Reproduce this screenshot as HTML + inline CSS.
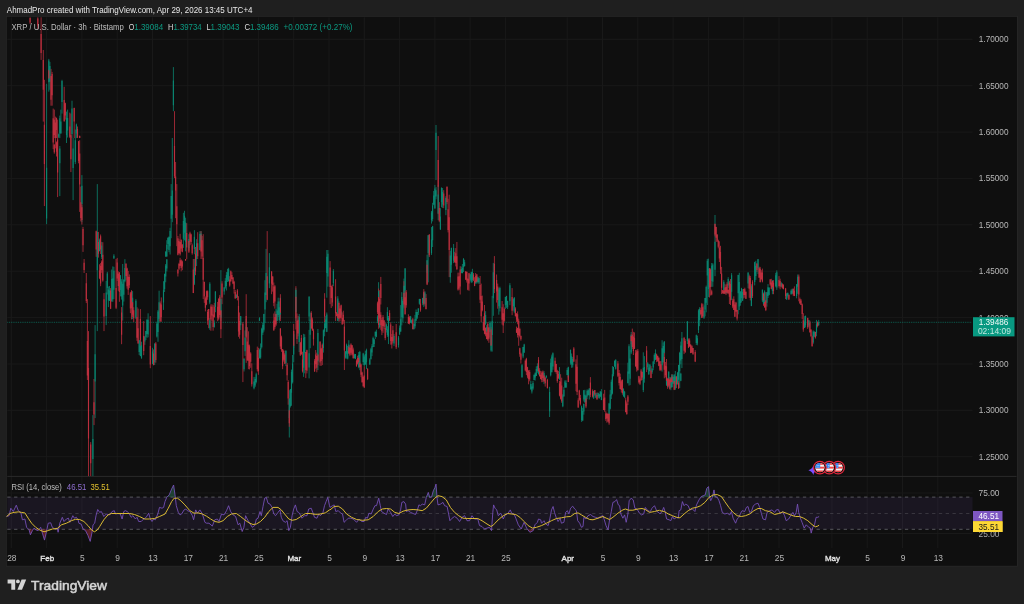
<!DOCTYPE html>
<html><head><meta charset="utf-8"><title>XRP / U.S. Dollar chart</title>
<style>html,body{margin:0;padding:0;background:#1f1f1f;overflow:hidden}body{width:1024px;height:604px;position:relative}</style>
</head><body>
<svg width="1024" height="604" viewBox="0 0 1024 604" style="position:absolute;left:0;top:0;will-change:transform">
<rect x="0" y="0" width="1024" height="604" fill="#1f1f1f"/>
<rect x="5.9" y="15.9" width="1012.0" height="550.8" fill="#262626"/>
<rect x="6.8" y="16.8" width="1010.2" height="549.0" fill="#0f0f0f"/>
<path d="M11.3 17.3V548.0M46.6 17.3V548.0M81.9 17.3V548.0M117.2 17.3V548.0M152.5 17.3V548.0M187.8 17.3V548.0M223.1 17.3V548.0M258.4 17.3V548.0M293.7 17.3V548.0M329.0 17.3V548.0M364.3 17.3V548.0M399.6 17.3V548.0M434.9 17.3V548.0M470.1 17.3V548.0M505.4 17.3V548.0M567.2 17.3V548.0M602.5 17.3V548.0M637.8 17.3V548.0M673.1 17.3V548.0M708.4 17.3V548.0M743.7 17.3V548.0M779.0 17.3V548.0M831.9 17.3V548.0M867.2 17.3V548.0M902.5 17.3V548.0M937.8 17.3V548.0M7.3 39.3H972.5M7.3 85.7H972.5M7.3 132.1H972.5M7.3 178.4H972.5M7.3 224.8H972.5M7.3 271.2H972.5M7.3 317.6H972.5M7.3 364.0H972.5M7.3 410.3H972.5M7.3 456.7H972.5M7.3 493.0H972.5M7.3 533.5H972.5" stroke="#191919" stroke-width="1" fill="none"/>
<path d="M7.3 476.4H1016.5" stroke="#2a2a2a" stroke-width="1"/>
<path d="M7.3 322.3H971.5" stroke="#0b8a75" stroke-width="1" stroke-dasharray="0.9 0.9" opacity="0.65"/>
<path d="M46.6 83.8V224.2M48.8 58.9V91.7M49.9 61.9V89.8M58.7 133.5V138.1M59.8 115.6V138.1M59.8 146.0V196.1M60.9 109.6V133.5M62.0 79.8V113.6M66.5 111.6V143.0M67.6 109.6V137.5M72.0 100.7V138.1M73.1 138.0V200.1M75.3 129.5V164.1M76.4 123.6V138.1M81.9 175.1V222.2M92.9 415.1V476.1M95.1 325.1V418.1M97.3 184.1V331.1M99.5 238.6V251.4M101.7 241.9V259.0M106.2 281.0V325.1M107.3 271.8V294.5M108.4 286.5V307.1M109.5 286.0V300.9M111.7 269.5V301.6M112.8 266.4V301.9M113.9 254.2V259.0M113.9 266.8V299.2M119.4 273.3V289.7M120.5 275.0V296.4M121.6 279.2V299.6M122.7 264.0V320.6M123.8 279.1V301.6M124.9 259.2V282.3M132.6 291.1V319.1M135.9 299.1V319.1M139.2 340.0V355.0M140.4 338.3V356.3M141.5 341.7V358.8M144.8 335.9V344.9M145.9 330.9V340.0M147.0 318.9V337.8M148.1 313.3V337.3M152.5 347.8V364.2M154.7 343.2V365.0M156.9 321.7V337.5M158.0 310.0V341.8M159.1 290.7V322.9M163.5 281.2V309.9M164.6 273.6V292.0M165.7 251.2V256.8M165.7 264.0V282.3M166.8 240.2V257.1M166.8 259.0V271.4M167.9 237.3V249.2M169.0 236.3V252.2M170.1 227.8V254.5M171.2 184.1V238.2M172.3 138.0V222.2M173.4 67.1V111.2M183.4 212.8V247.9M184.5 210.8V240.4M185.6 217.7V251.3M188.9 234.2V250.2M194.4 230.2V254.2M194.4 259.0V285.1M196.6 239.2V266.1M199.9 231.2V250.2M201.0 231.1V248.1M209.8 282.2V304.2M209.8 318.2V329.9M214.3 320.3V327.4M215.4 291.2V312.2M220.9 270.1V321.0M224.2 287.0V294.7M225.3 278.1V288.7M226.4 272.1V290.5M227.5 268.8V282.0M228.6 267.8V281.6M236.3 294.2V298.0M240.7 316.0V330.0M244.0 357.9V371.5M245.1 330.5V355.9M246.2 318.9V336.6M254.0 376.9V389.4M255.1 377.1V387.1M256.2 372.7V383.4M259.5 317.2V321.0M259.5 348.6V358.5M260.6 343.4V358.8M261.7 327.7V348.5M262.8 322.4V335.0M263.9 313.8V331.6M265.0 280.2V323.1M266.1 248.9V302.2M269.4 253.1V288.2M276.0 308.9V322.7M277.1 303.8V320.9M278.2 297.7V317.0M279.3 301.4V321.5M280.4 297.6V318.7M285.9 350.1V366.1M289.3 390.2V437.5M290.4 388.9V407.5M291.5 369.6V405.8M292.6 355.0V383.5M293.7 331.2V362.3M295.9 288.2V321.0M299.2 314.0V352.1M303.6 333.8V376.9M304.7 334.3V373.3M309.1 296.2V321.0M309.1 329.9V378.4M310.2 312.5V348.2M317.9 329.0V370.1M323.4 329.4V352.6M324.6 321.0V336.3M325.7 316.1V328.3M326.8 250.0V297.7M326.8 312.5V332.1M327.9 250.0V286.7M333.4 269.1V286.2M337.8 296.2V321.0M341.1 311.2V315.4M345.5 351.0V358.6M346.6 343.6V358.7M347.7 346.0V359.4M348.8 340.2V353.3M354.3 353.7V358.6M355.4 354.0V359.1M358.7 352.1V368.2M359.8 350.9V370.2M363.2 352.8V365.1M364.3 354.8V366.6M365.4 350.7V364.9M366.5 348.7V369.1M369.8 358.2V364.9M370.9 347.8V359.4M372.0 344.1V356.1M373.1 336.6V347.2M374.2 338.8V347.0M375.3 331.5V339.0M376.4 329.7V337.2M377.5 315.3V323.2M378.6 282.2V321.0M379.7 320.3V328.2M386.3 323.5V332.5M387.4 307.2V321.0M387.4 326.2V336.9M388.5 316.0V344.1M394.0 334.0V346.1M398.5 336.0V347.5M399.6 325.5V334.7M400.7 305.1V331.8M401.8 292.2V325.4M402.9 299.2V321.9M404.0 278.6V306.7M405.1 268.1V303.2M410.6 315.9V323.1M411.7 319.5V323.7M413.9 323.4V329.6M415.0 314.9V328.4M416.1 309.5V321.2M417.2 312.0V319.0M418.3 308.2V315.0M419.4 298.8V304.7M422.7 297.8V305.2M423.8 293.3V307.1M424.9 291.2V305.8M427.1 254.7V283.4M428.2 235.0V282.3M431.5 210.9V223.6M431.5 227.1V254.9M432.6 202.8V221.4M432.6 225.8V247.0M433.7 190.9V205.3M434.9 184.9V208.9M436.0 125.0V180.1M436.0 187.1V199.3M438.2 185.2V220.2M440.4 208.2V230.0M441.5 187.5V207.3M442.6 188.0V207.9M445.9 196.2V215.2M450.3 250.8V282.8M451.4 247.6V272.7M453.6 244.0V263.1M461.3 266.6V273.3M462.4 264.0V273.4M463.5 258.2V272.1M464.6 259.8V266.6M470.1 274.3V281.3M471.3 271.7V283.1M472.4 268.8V282.4M475.7 277.9V283.7M476.8 277.3V283.6M477.9 276.5V283.3M479.0 278.0V284.1M485.6 311.2V325.2M486.7 325.1V333.7M490.0 321.2V337.2M491.1 322.1V351.7M492.2 295.9V351.6M493.3 262.9V315.8M498.8 287.6V314.7M499.9 286.7V311.5M505.4 296.8V309.0M506.5 295.8V307.9M507.6 300.7V309.1M509.9 283.1V305.2M513.2 298.3V310.7M514.3 297.1V313.2M522.0 364.1V377.9M523.1 346.9V358.2M524.2 343.8V353.0M530.8 380.8V389.7M531.9 384.1V393.5M533.0 380.9V389.8M534.1 374.3V380.2M535.2 372.3V380.5M536.3 366.4V376.0M537.4 363.3V372.8M538.5 362.4V374.6M544.0 371.1V384.1M546.3 375.4V378.4M549.6 386.8V417.0M550.7 358.6V376.4M551.8 354.6V372.6M552.9 352.4V369.8M559.5 367.1V380.1M562.8 394.1V407.2M563.9 387.1V396.8M565.0 380.2V387.7M566.1 380.4V387.6M567.2 368.1V375.2M568.3 366.7V378.3M570.5 349.5V364.7M571.6 353.5V367.8M572.7 357.0V367.5M581.6 405.6V421.9M582.7 408.0V421.1M583.8 390.2V401.5M583.8 403.8V414.7M584.9 389.8V403.1M586.0 394.7V404.0M587.1 389.4V399.2M588.2 389.6V395.3M589.3 388.2V399.5M593.7 390.8V399.0M595.9 393.1V398.1M598.1 392.6V397.9M599.2 393.8V398.6M600.3 391.0V397.1M601.4 389.1V400.2M609.1 402.8V420.8M610.2 389.9V409.5M611.3 379.6V399.0M612.4 366.1V394.4M613.5 366.8V376.3M614.6 360.3V367.0M615.7 359.4V369.6M623.5 388.3V396.7M624.6 390.9V398.2M627.9 362.7V383.5M629.0 344.2V385.6M630.1 349.8V385.1M631.2 332.0V354.1M643.3 352.3V392.1M644.4 356.1V382.7M647.7 362.1V369.7M648.8 363.9V374.6M649.9 364.5V371.6M652.1 367.9V373.9M653.2 361.3V370.2M654.3 353.4V364.0M655.5 349.4V359.9M662.1 340.2V371.6M663.2 342.5V363.3M664.3 341.0V353.4M666.5 371.5V385.9M668.7 371.3V387.5M670.9 377.3V390.2M672.0 374.0V387.5M673.1 375.4V384.0M674.2 374.1V383.8M675.3 371.0V389.9M677.5 371.9V384.6M678.6 364.8V381.8M679.7 351.8V388.0M680.8 341.6V364.3M680.8 372.8V381.2M681.9 332.0V368.1M687.4 321.1V344.1M696.3 334.6V345.0M697.4 335.6V345.3M698.5 309.3V333.0M699.6 307.2V326.2M704.0 305.5V318.9M705.1 298.0V316.4M706.2 285.6V312.3M707.3 258.9V305.0M708.4 258.7V297.0M711.7 263.0V286.8M712.8 263.2V286.8M715.0 215.0V276.2M723.8 280.2V290.2M726.0 291.2V293.6M728.2 277.2V288.2M730.5 290.8V293.2M731.6 273.1V300.2M738.2 274.8V314.3M739.3 272.8V310.0M740.4 291.0V305.7M741.5 287.8V302.5M742.6 289.2V300.8M748.1 272.1V288.2M751.4 284.2V306.2M754.7 261.8V285.4M755.8 260.8V279.9M758.0 259.1V274.1M762.4 289.5V302.2M763.5 298.2V305.3M764.6 290.3V303.4M766.9 292.0V306.7M768.0 284.1V298.0M769.1 287.2V295.3M772.4 280.2V294.2M775.7 272.8V287.3M776.8 270.3V289.9M781.2 281.9V287.1M786.7 293.1V299.8M787.8 292.4V297.6M791.1 289.4V294.6M792.2 288.6V293.8M796.6 284.2V298.3M797.7 274.5V293.8M804.4 316.2V328.1M805.5 315.5V327.4M808.8 319.9V327.4M813.2 330.4V343.8M814.3 331.1V337.1M816.5 319.9V336.3M818.7 319.9V325.9" stroke="#0b7a66" stroke-width="1.0" fill="none" opacity="0.88"/>
<path d="M30.1 17.3V24.0M37.8 17.3V29.0M41.1 17.3V59.9M43.3 50.0V121.6M44.4 79.8V206.1M48.8 68.9V81.8M51.0 68.9V105.7M52.1 71.9V105.7M53.2 108.6V149.1M54.3 109.6V138.1M54.3 144.5V153.7M55.4 116.6V148.4M56.5 117.6V138.1M56.5 141.5V156.5M57.6 119.6V197.1M64.2 86.8V121.6M65.3 102.7V119.6M69.8 112.6V138.1M70.9 113.6V172.1M74.2 107.7V138.1M77.5 126.5V138.1M78.6 140.9V163.3M79.7 135.5V138.1M79.7 140.2V211.9M80.8 186.6V221.4M81.9 204.6V224.6M83.0 226.9V251.9M84.1 259.0V273.0M86.3 273.0V303.1M87.4 299.1V380.0M88.5 331.1V476.1M90.7 442.1V476.1M94.0 379.0V425.1M96.2 230.6V256.8M98.4 231.9V257.6M99.5 264.3V279.1M100.6 234.5V254.0M100.6 263.1V286.2M101.7 260.4V272.8M102.8 242.2V281.7M104.0 293.1V331.1M110.6 288.1V309.1M116.1 259.0V309.1M117.2 257.9V281.0M118.3 271.3V290.9M119.4 272.2V301.8M121.6 307.1V344.2M126.0 263.3V280.1M127.1 267.7V288.6M128.2 270.9V294.9M129.3 274.4V288.1M130.4 291.9V313.2M131.5 290.1V319.4M132.6 299.2V316.9M133.7 307.2V322.1M137.0 307.2V340.9M138.1 308.6V343.6M140.4 309.1V355.2M143.7 321.1V355.2M150.3 316.1V368.2M153.6 349.4V365.4M155.8 342.1V362.7M160.2 301.4V321.9M161.3 297.4V321.8M174.5 111.2V178.1M175.6 162.0V218.2M176.8 184.1V246.2M177.9 236.0V255.4M177.9 269.2V276.5M179.0 239.2V253.7M179.0 262.8V270.1M180.1 233.8V255.6M180.1 257.8V266.1M181.2 239.6V251.4M181.2 259.4V271.3M182.3 244.0V252.3M182.3 260.6V270.2M185.6 259.0V261.0M186.7 223.2V259.0M188.9 240.9V253.0M190.0 231.7V245.3M191.1 233.7V244.4M192.2 243.6V254.7M193.3 259.0V293.1M195.5 247.0V275.2M197.7 232.2V259.0M201.0 231.2V259.0M202.1 236.0V259.1M203.2 234.2V299.1M204.3 281.6V302.9M205.4 296.5V311.4M206.5 290.6V305.2M207.6 290.4V299.8M207.6 309.7V324.8M208.7 309.1V328.2M210.9 304.3V330.8M212.0 304.3V321.1M213.1 305.1V330.7M214.3 302.9V317.5M217.6 301.9V321.2M218.7 298.1V320.3M219.8 294.9V317.4M220.9 310.0V338.1M222.0 281.2V304.2M229.7 276.2V286.7M230.8 270.5V281.8M231.9 272.2V279.6M233.0 277.0V284.2M234.1 280.8V293.6M235.2 289.9V298.7M237.4 289.1V300.4M238.5 296.2V336.8M239.6 312.5V338.7M242.9 322.0V382.1M246.2 294.2V362.9M247.3 327.2V360.7M248.4 331.3V369.2M249.5 344.6V369.4M250.7 352.2V367.8M251.8 363.3V386.6M257.3 346.6V371.5M258.4 347.8V374.8M267.2 231.1V300.2M271.6 271.2V294.2M272.7 276.2V291.6M273.8 282.5V306.2M273.8 313.5V330.8M274.9 285.0V308.7M274.9 311.4V328.8M276.0 313.8V325.9M280.4 294.2V321.0M280.4 328.2V349.2M281.5 335.7V351.8M282.6 349.1V369.2M283.7 349.8V361.6M284.8 353.1V363.9M287.1 362.9V380.5M288.2 380.2V404.7M289.3 398.6V426.8M293.7 324.0V348.1M295.9 286.2V329.5M297.0 313.5V343.9M298.1 315.9V336.3M300.3 341.9V356.0M301.4 334.9V354.7M302.5 351.7V372.5M305.8 352.0V378.1M306.9 349.7V373.4M311.3 311.2V328.9M312.4 317.5V330.6M313.5 328.7V345.6M314.6 359.1V372.0M315.7 350.0V368.7M316.8 352.6V372.3M317.9 354.5V365.2M320.1 341.2V365.8M321.2 347.8V365.9M322.3 343.5V365.1M324.6 293.2V322.0M330.1 261.1V304.2M331.2 285.6V308.0M332.3 284.6V306.3M335.6 279.2V321.0M336.7 312.0V316.4M337.8 312.9V318.5M338.9 301.4V321.6M340.0 306.2V321.3M341.1 304.6V318.8M342.2 312.4V324.5M343.3 310.7V323.8M344.4 319.9V370.0M348.8 345.4V353.6M349.9 345.2V356.2M351.0 343.3V354.9M352.1 345.2V355.6M353.2 347.6V358.5M356.5 359.4V366.7M357.6 355.7V364.6M358.7 356.4V363.3M359.8 361.5V367.8M361.0 363.7V377.2M362.1 371.7V382.9M363.2 375.6V387.2M364.3 366.6V388.0M367.6 368.1V380.1M377.5 301.6V314.2M378.6 288.5V328.8M379.7 290.2V321.3M380.8 276.9V304.5M380.8 312.2V329.8M381.9 317.7V335.1M383.0 315.1V332.9M384.1 320.2V328.9M385.2 322.5V340.2M389.6 310.2V321.0M390.7 322.3V344.7M391.8 334.0V348.5M392.9 325.9V342.9M396.2 324.0V349.1M404.0 281.2V308.3M405.1 290.8V314.8M406.2 290.1V307.7M408.4 314.3V324.0M409.5 316.2V324.4M412.8 317.9V329.5M420.5 298.9V311.7M423.8 289.1V305.2M426.0 294.1V309.2M427.1 261.1V285.1M429.3 234.0V257.1M438.2 136.1V214.2M439.3 202.2V222.2M443.7 190.2V208.2M447.0 186.2V204.2M448.1 198.8V232.4M449.2 194.7V277.1M454.7 251.8V262.8M455.8 248.1V266.4M456.9 242.0V270.1M458.0 272.6V290.6M459.1 272.7V290.1M460.2 266.2V294.5M465.7 271.1V280.0M466.8 271.4V282.6M467.9 277.9V290.3M469.0 272.8V290.8M473.5 273.1V281.1M474.6 277.2V286.2M475.7 273.0V282.7M476.8 274.1V282.2M480.1 276.0V303.1M481.2 283.6V322.2M482.3 295.6V311.4M483.4 316.3V330.7M484.5 305.0V334.3M485.6 327.4V336.3M486.7 330.2V339.2M487.8 322.2V340.8M488.9 327.2V342.8M491.1 327.2V346.0M494.4 256.1V293.1M496.6 274.5V302.6M497.7 283.6V308.7M502.1 301.0V324.6M503.2 304.2V333.0M504.3 307.4V321.8M512.1 288.1V315.2M515.4 307.2V316.4M516.5 313.2V321.9M516.5 326.6V333.0M517.6 311.4V324.3M517.6 327.7V337.5M518.7 318.6V345.8M519.8 327.7V337.4M519.8 347.7V356.8M520.9 335.5V340.7M520.9 352.6V363.5M525.3 359.5V371.2M526.4 357.8V375.1M527.5 366.8V378.3M528.6 370.3V384.3M529.7 369.9V381.3M538.5 357.1V372.1M539.6 368.2V376.4M540.7 370.9V379.3M541.8 371.3V382.2M542.9 370.5V382.1M544.0 374.6V381.6M545.2 377.0V386.6M547.4 378.8V388.3M555.1 357.6V372.2M556.2 363.8V373.8M557.3 369.8V382.8M558.4 370.9V378.5M559.5 380.9V396.4M560.6 374.2V399.5M561.7 377.7V402.8M568.3 370.1V382.1M573.8 347.1V362.1M576.0 359.4V391.2M577.1 355.2V395.1M578.2 398.3V407.7M579.3 389.8V400.8M580.4 394.9V405.4M586.0 396.2V408.2M590.4 377.1V397.2M592.6 389.4V397.5M594.8 390.1V395.8M597.0 392.4V399.5M603.6 393.7V410.0M604.7 389.9V411.8M605.8 411.2V420.9M606.9 412.7V422.7M608.0 413.4V421.9M609.1 413.3V424.8M617.9 361.1V377.1M619.1 370.0V385.5M620.2 373.7V389.2M621.3 379.8V392.5M622.4 379.6V394.7M625.7 397.6V412.4M626.8 401.6V414.8M627.9 395.0V405.1M631.2 334.2V344.1M632.3 328.6V349.0M633.4 331.8V355.0M634.5 332.4V348.9M635.6 349.9V366.9M636.7 349.7V371.6M637.8 349.0V370.7M638.9 375.8V383.6M640.0 377.7V385.1M641.1 368.9V380.6M642.2 371.5V380.0M646.6 346.1V372.1M651.0 366.1V378.1M656.6 353.7V362.2M657.7 355.6V361.6M658.8 357.1V366.2M659.9 361.1V370.9M661.0 360.9V371.2M664.3 352.1V378.3M665.4 362.0V377.4M666.5 359.0V382.9M667.6 377.8V388.8M668.7 378.2V386.3M669.8 376.9V389.6M670.9 377.9V382.9M672.0 374.2V383.1M674.2 376.8V390.1M676.4 375.9V388.1M678.6 381.2V389.0M684.1 336.9V354.1M685.2 339.1V352.8M688.5 338.5V348.1M689.6 338.4V346.6M690.7 344.0V353.2M691.9 345.3V353.0M693.0 348.0V354.9M695.2 350.1V362.1M700.7 307.6V315.3M701.8 302.9V318.1M702.9 303.7V317.8M709.5 268.0V297.5M710.6 268.4V295.5M711.7 289.7V295.3M715.0 223.6V236.4M716.1 226.8V242.0M717.2 234.4V242.1M718.3 239.7V248.3M719.4 241.3V262.0M720.5 245.8V273.9M721.6 266.9V294.1M722.7 290.0V293.8M723.8 289.8V293.7M724.9 283.8V293.7M726.0 284.8V295.1M727.1 281.9V293.6M728.2 289.4V294.2M729.4 280.8V304.0M730.5 279.0V305.0M732.7 298.7V308.2M733.8 296.3V310.0M734.9 301.8V316.8M736.0 301.8V311.9M737.1 309.8V320.5M743.7 288.9V298.4M744.8 287.7V297.7M745.9 291.2V299.0M749.2 274.6V297.7M750.3 275.9V300.4M752.5 280.2V298.0M756.9 263.1V272.1M759.1 266.7V278.0M760.2 266.9V282.2M761.3 270.2V279.9M762.4 268.6V282.4M763.5 292.6V305.8M764.6 298.0V307.9M765.8 292.2V311.1M770.2 279.0V285.8M771.3 278.8V289.2M772.4 280.8V290.1M773.5 280.2V294.2M779.0 276.1V287.6M780.1 278.7V289.3M782.3 283.4V288.6M783.4 284.2V289.4M785.6 287.9V299.1M788.9 294.6V299.8M793.3 288.6V296.1M794.4 286.4V296.1M798.8 274.5V301.3M799.9 297.6V303.5M801.0 299.1V305.0M802.2 303.5V319.2M803.3 313.2V331.8M807.7 317.7V328.9M809.9 320.7V332.6M811.0 329.6V337.1M812.1 335.6V346.8M815.4 331.8V338.6M817.6 321.4V327.4" stroke="#ab2b39" stroke-width="1.0" fill="none" opacity="0.88"/>
<path d="M46.6 167.7V218.4M48.8 60.5V82.3M49.9 65.9V81.8M58.7 134.2V136.7M59.8 118.2V133.6M59.8 148.6V163.2M60.9 121.4V133.4M62.0 80.9V102.0M66.5 117.8V135.0M67.6 117.9V130.6M72.0 108.5V133.9M73.1 148.5V167.9M75.3 140.2V162.0M76.4 124.6V133.6M81.9 185.7V204.0M92.9 439.1V458.9M95.1 354.3V381.4M97.3 231.9V270.2M99.5 240.2V250.9M101.7 245.6V257.1M106.2 292.6V316.1M107.3 273.4V287.9M108.4 289.6V300.6M109.5 290.6V300.8M111.7 279.0V301.2M112.8 278.3V299.2M113.9 255.8V258.3M113.9 270.8V289.7M119.4 278.0V287.4M120.5 275.6V290.1M121.6 281.5V296.4M122.7 283.7V305.4M123.8 280.0V294.8M124.9 268.0V281.2M132.6 297.7V309.6M135.9 300.8V317.7M139.2 340.3V352.1M140.4 345.8V356.0M141.5 345.3V357.7M144.8 336.9V341.6M145.9 331.0V336.9M147.0 319.9V333.9M148.1 319.7V334.6M152.5 351.4V363.7M154.7 343.8V362.3M156.9 323.8V336.5M158.0 311.4V331.9M159.1 302.3V318.8M163.5 290.2V302.5M164.6 274.0V289.1M165.7 251.7V256.5M165.7 265.4V276.4M166.8 244.8V256.2M166.8 259.4V268.5M167.9 238.0V244.0M169.0 236.9V249.9M170.1 231.1V246.3M171.2 196.0V218.8M172.3 190.6V214.7M173.4 80.4V105.2M183.4 220.9V238.7M184.5 215.7V232.7M185.6 222.5V241.8M188.9 238.9V247.9M194.4 236.7V249.1M194.4 267.4V283.8M196.6 243.2V259.1M199.9 233.9V250.0M201.0 233.5V247.2M209.8 283.7V302.4M209.8 320.3V328.3M214.3 322.7V327.2M215.4 291.6V307.1M220.9 298.9V317.8M224.2 287.6V291.5M225.3 281.1V287.5M226.4 275.1V285.9M227.5 272.2V279.8M228.6 269.2V280.9M236.3 295.0V297.9M240.7 316.3V325.2M244.0 359.0V369.2M245.1 337.4V351.3M246.2 327.0V335.9M254.0 381.6V388.3M255.1 378.9V385.6M256.2 374.3V382.1M259.5 318.3V320.6M259.5 350.1V358.1M260.6 347.9V357.4M261.7 328.8V347.3M262.8 325.0V332.7M263.9 314.1V329.7M265.0 292.4V309.6M266.1 273.1V295.1M269.4 267.2V283.6M276.0 314.1V321.2M277.1 310.6V320.8M278.2 301.4V314.9M279.3 307.2V320.0M280.4 297.9V314.6M285.9 351.0V363.0M289.3 398.5V417.9M290.4 389.3V406.0M291.5 372.0V392.7M292.6 363.5V382.2M293.7 334.3V354.4M295.9 289.9V311.9M299.2 316.7V342.0M303.6 337.7V367.8M304.7 336.9V352.7M309.1 296.7V316.4M309.1 353.3V367.5M310.2 319.5V334.7M317.9 333.0V361.6M323.4 330.2V348.1M324.6 323.5V331.8M325.7 319.5V328.0M326.8 256.8V272.9M326.8 314.4V331.8M327.9 253.8V276.5M333.4 270.9V283.2M337.8 298.5V320.7M341.1 311.8V314.5M345.5 351.7V357.4M346.6 344.8V353.8M347.7 351.1V358.4M348.8 344.6V351.4M354.3 354.6V358.0M355.4 354.1V358.7M358.7 354.9V366.9M359.8 352.1V366.0M363.2 353.6V362.1M364.3 356.6V365.0M365.4 354.0V364.2M366.5 350.1V362.3M369.8 359.5V364.6M370.9 349.2V359.2M372.0 346.3V352.5M373.1 338.0V346.9M374.2 339.4V343.9M375.3 331.8V336.3M376.4 331.8V336.7M377.5 316.8V321.0M378.6 290.8V311.6M379.7 322.7V327.1M386.3 324.6V330.1M387.4 311.9V320.1M387.4 329.4V335.1M388.5 317.9V336.4M394.0 335.9V343.4M398.5 337.6V345.0M399.6 327.8V334.5M400.7 319.2V331.4M401.8 297.0V317.3M402.9 300.9V318.3M404.0 285.8V300.2M405.1 268.4V290.4M410.6 316.4V322.5M411.7 320.2V323.1M413.9 323.9V328.9M415.0 319.3V326.3M416.1 312.0V320.4M417.2 312.1V317.8M418.3 308.4V312.4M419.4 298.9V303.7M422.7 298.0V303.3M423.8 293.6V303.1M424.9 292.6V303.9M427.1 260.0V272.7M428.2 235.2V253.2M431.5 212.5V220.2M431.5 239.6V252.9M432.6 205.4V218.9M432.6 226.2V240.3M433.7 195.6V204.5M434.9 188.6V208.3M436.0 132.7V150.0M436.0 190.2V196.6M438.2 194.4V213.6M440.4 216.6V229.3M441.5 187.8V202.1M442.6 192.0V204.4M445.9 198.1V210.1M450.3 255.4V277.2M451.4 248.1V264.7M453.6 248.0V260.8M461.3 269.0V272.8M462.4 267.8V273.1M463.5 258.8V266.9M464.6 262.2V265.9M470.1 274.3V279.8M471.3 272.2V281.8M472.4 272.0V280.1M475.7 279.9V283.2M476.8 278.5V281.7M477.9 276.9V282.0M479.0 278.2V282.5M485.6 315.0V323.9M486.7 327.1V331.6M490.0 323.1V332.0M491.1 336.6V350.5M492.2 320.7V335.0M493.3 272.2V298.2M498.8 289.4V306.3M499.9 288.0V308.3M505.4 296.9V305.3M506.5 296.1V304.7M507.6 301.0V307.3M509.9 285.2V301.3M513.2 299.2V306.2M514.3 297.8V311.8M522.0 365.2V376.9M523.1 347.0V356.6M524.2 344.4V352.4M530.8 383.9V389.3M531.9 386.6V391.6M533.0 383.1V388.4M534.1 375.1V379.9M535.2 373.2V377.6M536.3 368.9V376.0M537.4 366.1V371.0M538.5 366.0V373.7M544.0 373.1V380.4M546.3 375.8V377.6M549.6 392.1V411.3M550.7 362.8V375.2M551.8 356.4V372.0M552.9 353.3V366.4M559.5 371.9V379.1M562.8 395.5V406.2M563.9 389.7V396.2M565.0 381.4V387.5M566.1 383.0V387.4M567.2 370.0V375.1M568.3 367.3V376.7M570.5 350.1V362.8M571.6 356.3V364.5M572.7 359.1V365.3M581.6 406.5V420.1M582.7 410.9V420.5M583.8 390.3V399.5M583.8 403.8V411.5M584.9 394.7V402.0M586.0 395.7V402.0M587.1 390.8V396.6M588.2 390.2V394.9M589.3 388.6V395.6M593.7 390.9V397.7M595.9 393.2V397.4M598.1 393.0V396.4M599.2 394.2V398.3M600.3 391.4V396.6M601.4 392.3V400.0M609.1 403.5V415.0M610.2 394.6V408.8M611.3 381.7V395.4M612.4 374.2V393.5M613.5 367.0V374.2M614.6 361.0V366.1M615.7 359.8V368.8M623.5 389.3V396.3M624.6 391.8V397.1M627.9 371.6V383.1M629.0 346.2V373.8M630.1 358.5V378.8M631.2 334.9V352.5M643.3 367.8V389.9M644.4 366.9V378.8M647.7 363.2V367.2M648.8 367.5V374.5M649.9 364.6V370.9M652.1 368.7V372.2M653.2 361.6V367.6M654.3 355.0V361.5M655.5 352.9V359.8M662.1 348.2V365.2M663.2 346.1V362.1M664.3 341.8V352.7M666.5 377.3V384.7M668.7 371.8V381.4M670.9 377.5V388.1M672.0 375.0V387.0M673.1 376.9V383.6M674.2 374.8V382.5M675.3 376.2V388.6M677.5 373.0V383.7M678.6 365.1V379.8M679.7 353.0V371.2M680.8 345.4V360.5M680.8 373.7V380.8M681.9 338.2V358.9M687.4 321.6V340.9M696.3 335.3V343.0M697.4 338.3V343.5M698.5 310.4V330.1M699.6 309.0V320.1M704.0 310.8V317.8M705.1 298.0V309.6M706.2 287.1V302.8M707.3 260.8V275.5M708.4 268.6V289.1M711.7 265.8V281.0M712.8 264.6V281.8M715.0 241.7V269.8M723.8 281.9V290.1M726.0 291.7V293.0M728.2 279.0V285.4M730.5 290.9V292.5M731.6 275.2V291.7M738.2 275.1V293.3M739.3 282.0V306.5M740.4 292.0V303.1M741.5 288.6V298.1M742.6 292.0V300.7M748.1 272.7V283.6M751.4 286.3V306.0M754.7 262.3V281.9M755.8 265.8V276.1M758.0 259.2V268.3M762.4 289.7V300.4M763.5 298.9V304.1M764.6 291.4V302.1M766.9 292.3V302.8M768.0 287.3V296.1M769.1 287.8V294.7M772.4 280.6V291.0M775.7 275.3V285.9M776.8 272.2V287.5M781.2 283.1V286.6M786.7 293.6V299.4M787.8 292.9V295.7M791.1 290.8V294.2M792.2 289.2V293.5M796.6 284.3V295.9M797.7 276.7V286.8M804.4 321.5V328.0M805.5 315.9V325.3M808.8 320.2V325.4M813.2 331.5V342.6M814.3 332.0V336.5M816.5 324.2V332.8M818.7 322.1V325.1" stroke="#0a8570" stroke-width="1.15" fill="none"/>
<path d="M30.1 18.0V22.5M37.8 18.6V25.5M41.1 34.1V52.9M43.3 59.9V89.8M44.4 124.7V163.9M48.8 70.3V78.6M51.0 76.1V99.8M52.1 74.0V95.2M53.2 118.3V142.6M54.3 119.7V135.0M54.3 144.6V152.3M55.4 122.5V137.9M56.5 118.1V130.0M56.5 142.6V151.8M57.6 139.5V172.5M64.2 99.9V121.3M65.3 103.2V115.4M69.8 126.6V136.8M70.9 135.2V159.3M74.2 108.1V121.6M77.5 128.9V137.6M78.6 141.3V160.9M79.7 135.9V138.0M79.7 153.4V184.6M80.8 202.2V218.0M81.9 207.3V219.9M83.0 229.0V245.2M84.1 262.8V270.1M86.3 283.2V300.9M87.4 341.1V375.6M88.5 368.0V438.5M90.7 444.6V463.3M94.0 402.2V414.6M96.2 231.3V249.4M98.4 242.0V253.8M99.5 270.5V277.9M100.6 236.3V249.4M100.6 265.9V283.6M101.7 261.8V270.1M102.8 254.8V280.4M104.0 299.3V316.4M110.6 290.5V308.7M116.1 288.0V307.7M117.2 262.5V278.5M118.3 273.8V286.0M119.4 272.5V292.1M121.6 312.6V334.8M126.0 263.8V275.9M127.1 268.5V286.2M128.2 276.8V289.7M129.3 277.0V285.3M130.4 293.3V308.6M131.5 291.5V308.3M132.6 302.2V314.7M133.7 310.3V318.2M137.0 317.1V337.8M138.1 328.2V343.4M140.4 318.9V340.0M143.7 335.9V350.9M150.3 345.9V364.5M153.6 353.4V365.0M155.8 343.6V360.0M160.2 303.2V321.2M161.3 304.5V317.2M174.5 146.0V176.2M175.6 176.4V190.6M176.8 206.3V224.2M177.9 238.3V254.8M177.9 269.8V273.6M179.0 240.9V252.9M179.0 264.0V268.8M180.1 241.9V254.2M180.1 260.3V265.7M181.2 239.8V248.6M181.2 260.3V267.9M182.3 244.7V251.8M182.3 261.4V266.4M185.6 259.0V260.3M186.7 233.0V247.5M188.9 240.9V251.8M190.0 233.2V241.4M191.1 234.5V242.0M192.2 245.2V253.2M193.3 269.6V293.0M195.5 253.5V271.4M197.7 243.2V256.2M201.0 234.5V251.4M202.1 240.3V256.6M203.2 257.9V279.8M204.3 282.1V296.2M205.4 298.3V307.7M206.5 291.3V304.4M207.6 291.2V297.3M207.6 311.9V320.8M208.7 309.1V319.8M210.9 306.6V319.6M212.0 306.7V315.6M213.1 314.5V327.1M214.3 306.7V317.2M217.6 306.7V317.7M218.7 298.9V318.8M219.8 296.8V315.0M220.9 310.6V329.2M222.0 283.5V297.5M229.7 279.4V285.5M230.8 271.2V281.3M231.9 275.0V279.0M233.0 277.4V283.5M234.1 281.8V289.0M235.2 292.1V298.4M237.4 290.6V297.2M238.5 306.1V331.5M239.6 321.0V334.7M242.9 323.8V345.0M246.2 316.0V337.6M247.3 341.4V360.5M248.4 344.8V360.7M249.5 346.3V365.9M250.7 353.4V361.7M251.8 371.2V384.2M257.3 350.1V369.2M258.4 357.8V371.3M267.2 276.2V299.7M271.6 271.5V283.8M272.7 276.6V285.1M273.8 286.4V303.1M273.8 320.4V330.3M274.9 286.2V301.6M274.9 316.9V326.9M276.0 314.0V324.6M280.4 298.2V312.7M280.4 328.5V346.6M281.5 337.3V349.5M282.6 349.3V366.3M283.7 351.1V359.7M284.8 354.5V363.8M287.1 364.8V375.3M288.2 382.1V398.6M289.3 410.2V423.2M293.7 331.1V345.7M295.9 296.7V318.3M297.0 320.7V339.1M298.1 319.7V333.5M300.3 342.6V354.7M301.4 338.1V354.2M302.5 359.4V371.3M305.8 352.1V370.1M306.9 350.2V370.7M311.3 312.9V328.2M312.4 319.4V330.5M313.5 330.6V339.3M314.6 360.8V371.3M315.7 354.6V364.2M316.8 356.0V367.7M317.9 354.6V360.4M320.1 341.7V362.6M321.2 348.5V361.1M322.3 344.8V359.2M324.6 298.7V316.6M330.1 267.4V286.9M331.2 286.1V297.9M332.3 287.2V302.5M335.6 296.4V313.2M336.7 312.6V316.0M337.8 314.0V318.0M338.9 303.1V319.0M340.0 308.6V318.0M341.1 305.2V317.8M342.2 317.7V324.5M343.3 314.7V321.2M344.4 326.5V350.6M348.8 346.8V353.4M349.9 347.8V354.8M351.0 344.4V352.7M352.1 345.2V354.5M353.2 349.5V358.2M356.5 360.7V366.2M357.6 357.9V363.7M358.7 357.7V362.2M359.8 363.0V366.9M361.0 364.6V374.7M362.1 372.5V382.1M363.2 376.9V386.0M364.3 375.4V387.3M367.6 369.1V379.0M377.5 303.3V312.2M378.6 296.9V325.1M379.7 298.7V318.5M380.8 284.0V298.0M380.8 314.8V325.3M381.9 320.1V331.2M383.0 316.9V325.9M384.1 320.4V326.7M385.2 327.9V338.0M389.6 313.1V320.3M390.7 324.4V341.1M391.8 337.1V344.6M392.9 330.2V341.2M396.2 332.3V347.2M404.0 293.0V304.4M405.1 297.3V314.0M406.2 292.3V305.2M408.4 316.9V323.6M409.5 317.5V323.0M412.8 319.3V328.9M420.5 303.4V310.2M423.8 291.7V304.1M426.0 298.1V309.2M427.1 264.7V284.6M429.3 234.7V255.3M438.2 159.9V186.7M439.3 207.9V220.8M443.7 193.6V205.6M447.0 187.1V201.9M448.1 209.2V229.9M449.2 217.2V250.0M454.7 256.3V262.1M455.8 253.3V263.0M456.9 256.2V268.9M458.0 276.6V289.6M459.1 276.3V288.4M460.2 269.5V286.5M465.7 271.6V279.4M466.8 272.1V280.6M467.9 279.0V289.7M469.0 273.2V283.4M473.5 274.7V279.8M474.6 280.8V285.9M475.7 276.0V282.2M476.8 274.4V281.6M480.1 285.1V299.7M481.2 295.9V316.3M482.3 301.5V310.2M483.4 322.3V330.2M484.5 313.3V333.7M485.6 328.1V334.5M486.7 332.8V339.0M487.8 323.9V339.6M488.9 327.6V338.8M491.1 329.5V345.6M494.4 263.8V289.1M496.6 280.0V291.6M497.7 286.5V299.9M502.1 307.2V319.7M503.2 313.3V325.6M504.3 309.0V320.8M512.1 296.9V310.7M515.4 308.6V316.2M516.5 313.6V319.6M516.5 329.2V332.6M517.6 314.3V321.4M517.6 328.0V335.0M518.7 320.7V335.3M519.8 329.1V336.1M519.8 348.3V354.2M520.9 335.9V339.3M520.9 353.8V359.8M525.3 360.8V370.3M526.4 358.7V372.1M527.5 367.2V376.4M528.6 370.5V379.0M529.7 371.9V379.4M538.5 359.8V371.5M539.6 370.6V376.2M540.7 374.8V379.1M541.8 372.8V380.1M542.9 371.8V378.0M544.0 375.6V381.2M545.2 377.8V383.2M547.4 379.8V388.3M555.1 360.7V371.7M556.2 364.0V372.1M557.3 370.8V381.0M558.4 374.1V378.4M559.5 383.6V395.5M560.6 381.5V398.7M561.7 385.5V401.2M568.3 375.4V382.0M573.8 348.5V361.4M576.0 364.2V383.7M577.1 366.7V392.0M578.2 400.3V407.6M579.3 390.6V399.7M580.4 398.1V403.7M586.0 398.6V406.6M590.4 382.6V394.8M592.6 391.2V396.6M594.8 390.1V394.6M597.0 395.1V399.4M603.6 398.5V409.9M604.7 397.6V410.3M605.8 413.4V418.9M606.9 413.5V418.6M608.0 413.9V421.4M609.1 413.8V423.3M617.9 363.5V375.7M619.1 372.9V382.9M620.2 376.9V388.9M621.3 381.2V390.1M622.4 379.7V393.1M625.7 400.2V412.1M626.8 403.6V414.1M627.9 396.6V401.8M631.2 336.1V341.2M632.3 334.7V347.1M633.4 336.6V350.9M634.5 337.8V348.8M635.6 353.2V366.1M636.7 351.6V368.5M637.8 350.8V370.0M638.9 376.3V382.3M640.0 379.6V383.7M641.1 370.5V380.2M642.2 371.9V377.4M646.6 350.5V362.3M651.0 370.4V377.9M656.6 354.4V359.6M657.7 356.0V361.2M658.8 358.0V365.7M659.9 361.6V369.7M661.0 364.3V370.1M664.3 357.0V369.7M665.4 365.7V375.2M666.5 366.3V380.7M667.6 378.8V386.8M668.7 378.5V385.6M669.8 379.6V388.7M670.9 378.4V382.2M672.0 376.4V381.9M674.2 381.0V389.8M676.4 376.7V384.6M678.6 382.7V388.2M684.1 338.1V350.7M685.2 340.9V352.3M688.5 340.2V347.6M689.6 340.6V346.4M690.7 345.0V352.9M691.9 346.2V352.5M693.0 348.1V354.0M695.2 352.0V361.4M700.7 310.0V314.1M701.8 304.3V317.8M702.9 307.2V316.3M709.5 268.4V287.4M710.6 269.5V287.1M711.7 291.2V294.4M715.0 224.1V234.5M716.1 226.9V237.8M717.2 234.5V240.7M718.3 240.8V246.8M719.4 247.5V258.4M720.5 252.1V269.5M721.6 273.6V287.7M722.7 290.2V293.0M723.8 290.4V293.7M724.9 287.4V293.7M726.0 287.1V292.5M727.1 283.7V292.8M728.2 290.0V293.2M729.4 282.6V296.8M730.5 284.1V300.3M732.7 300.8V306.5M733.8 299.2V309.9M734.9 304.6V316.7M736.0 302.7V311.6M737.1 309.9V318.4M743.7 289.0V295.0M744.8 289.2V294.9M745.9 292.1V298.8M749.2 276.2V288.8M750.3 278.0V298.0M752.5 281.7V296.3M756.9 263.7V270.0M759.1 267.8V277.6M760.2 268.7V282.2M761.3 272.5V279.0M762.4 272.4V281.5M763.5 294.0V300.6M764.6 302.1V307.0M765.8 300.3V310.0M770.2 279.4V284.5M771.3 282.6V288.8M772.4 281.1V287.2M773.5 282.8V291.0M779.0 280.0V286.1M780.1 281.1V286.6M782.3 283.7V287.8M783.4 285.0V289.0M785.6 288.4V296.1M788.9 294.7V299.4M793.3 288.7V294.6M794.4 290.8V296.0M798.8 276.4V294.6M799.9 298.9V303.4M801.0 300.4V304.9M802.2 304.5V313.9M803.3 320.2V329.6M807.7 318.0V327.2M809.9 322.6V332.3M811.0 329.6V336.1M812.1 336.6V346.0M815.4 331.9V337.4M817.6 322.3V326.0" stroke="#bd2f3e" stroke-width="1.15" fill="none"/>
<rect x="7.3" y="497.1" width="965.2" height="32.2" fill="#7e57c2" opacity="0.10"/>
<path d="M7.3 497.1H972.5" stroke="#85858c" stroke-width="0.8" stroke-dasharray="3.3 3.5" opacity="0.75"/>
<path d="M7.3 513.5H972.5" stroke="#85858c" stroke-width="0.8" stroke-dasharray="3.3 3.5" opacity="0.35"/>
<path d="M7.3 529.3H972.5" stroke="#85858c" stroke-width="0.8" stroke-dasharray="3.3 3.5" opacity="0.75"/>
<path d="M167.0 497.1L169.2 494.9L171.6 489.1L173.6 485.0L175.0 494.9L175.2 497.1Z" fill="#2e7d5b" opacity="0.45"/>
<path d="M426.5 497.1L428.3 492.4L429.6 497.1Z" fill="#2e7d5b" opacity="0.45"/>
<path d="M430.4 497.1L431.7 496.6L433.3 490.8L435.0 487.4L436.0 484.1L437.0 497.1Z" fill="#2e7d5b" opacity="0.45"/>
<path d="M700.9 497.1L701.2 496.6L703.2 495.7L705.2 494.9L706.8 488.3L708.5 486.6L709.5 496.6L709.6 497.1Z" fill="#2e7d5b" opacity="0.45"/>
<path d="M712.4 497.1L714.0 489.9L715.1 496.6L716.5 497.1Z" fill="#2e7d5b" opacity="0.45"/>
<path d="M28.6 529.3L29.1 529.8L30.4 534.8L32.4 530.6L33.3 529.3Z" fill="#b23040" opacity="0.45"/>
<path d="M35.2 529.3L35.7 529.8L38.2 530.6L39.2 529.3Z" fill="#b23040" opacity="0.45"/>
<path d="M41.3 529.3L42.4 533.1L44.5 540.1L46.5 531.5L46.9 529.3Z" fill="#b23040" opacity="0.45"/>
<path d="M57.5 529.3L58.1 532.3L58.7 529.3Z" fill="#b23040" opacity="0.45"/>
<path d="M83.6 529.3L85.5 530.6L88.0 535.6L90.2 541.4L92.2 531.5L92.5 529.3Z" fill="#b23040" opacity="0.45"/>
<path d="M241.6 529.3L242.2 531.5L243.1 529.3Z" fill="#b23040" opacity="0.45"/>
<path d="M288.5 529.3L288.8 530.6L289.4 529.3Z" fill="#b23040" opacity="0.45"/>
<path d="M490.7 529.3L491.5 530.6L491.6 529.3Z" fill="#b23040" opacity="0.45"/>
<path d="M527.5 529.3L529.9 532.3L533.2 530.6L533.6 529.3Z" fill="#b23040" opacity="0.45"/>
<path d="M607.7 529.3L608.0 529.8L608.0 529.3Z" fill="#b23040" opacity="0.45"/>
<path d="M810.5 529.3L811.2 533.1L812.3 529.3Z" fill="#b23040" opacity="0.45"/>
<path d="M6.6 516.5L9.1 515.7L10.8 508.2L13.3 511.5L16.3 505.2L18.3 510.7L20.8 512.4L22.4 519.8L24.9 519.0L26.6 527.3L29.1 529.8L30.4 534.8L32.4 530.6L34.1 528.1L35.7 529.8L38.2 530.6L40.7 527.3L42.4 533.1L44.5 540.1L46.5 531.5L48.2 523.2L50.7 522.8L52.3 527.3L54.8 529.0L57.3 528.1L58.1 532.3L59.8 523.2L62.3 517.3L64.0 521.5L66.4 519.0L68.4 518.2L69.8 522.3L71.4 519.0L72.8 515.7L74.4 518.2L76.4 517.3L78.1 519.8L78.9 523.2L81.1 524.0L83.1 529.0L85.5 530.6L88.0 535.6L90.2 541.4L92.2 531.5L93.0 524.8L94.7 523.2L96.0 515.7L97.7 509.5L99.7 512.4L101.3 511.5L103.8 516.5L106.3 514.0L109.6 514.9L112.1 511.5L114.3 510.7L115.4 514.0L117.9 513.5L120.4 514.0L122.1 519.0L123.8 511.5L125.4 510.7L127.1 511.5L128.7 512.9L131.2 517.3L132.9 515.7L135.4 519.0L137.0 517.3L138.7 521.5L141.2 521.5L143.7 519.0L146.2 517.3L148.7 513.2L150.3 519.0L152.0 521.5L153.7 519.0L155.3 519.8L157.8 514.0L159.5 507.4L162.0 508.2L163.6 507.4L165.0 501.6L166.7 497.4L169.2 494.9L171.6 489.1L173.6 485.0L175.0 494.9L176.3 505.7L178.3 512.4L180.0 514.9L181.6 514.0L184.1 509.9L185.8 509.0L187.4 510.7L189.9 511.5L192.4 515.7L193.6 519.8L195.7 509.9L197.4 513.2L199.9 509.9L202.4 514.0L204.9 522.3L206.5 523.2L209.0 523.2L212.3 526.1L214.8 519.8L217.3 519.0L219.0 521.5L221.5 514.0L224.0 514.9L226.5 510.7L228.6 505.7L230.6 511.5L233.1 514.9L235.6 516.5L238.1 524.8L239.8 523.2L242.2 531.5L243.9 527.3L245.6 515.7L247.2 519.0L249.7 523.2L252.2 527.3L254.7 525.6L256.4 519.0L258.0 518.2L260.0 511.5L261.3 515.7L263.0 506.5L264.7 498.2L266.3 497.4L268.0 503.2L270.0 504.1L272.1 507.4L273.8 514.0L275.5 515.7L278.0 512.4L280.0 509.9L281.3 517.3L282.9 520.7L285.4 522.3L287.1 520.7L288.8 530.6L290.4 527.3L292.1 515.7L293.7 509.0L295.4 504.9L297.1 511.5L298.7 512.4L300.4 514.9L302.0 518.2L304.5 515.7L307.0 515.7L308.7 509.0L311.2 508.2L312.8 512.4L314.5 517.3L317.0 518.2L318.7 514.0L320.3 515.7L322.8 513.2L324.5 505.7L326.1 501.6L327.8 497.4L329.5 505.7L330.0 507.4L332.5 505.7L334.2 504.9L335.8 511.5L338.3 510.7L340.8 513.2L342.5 514.0L344.1 522.3L345.8 520.7L348.3 518.2L350.8 518.2L353.3 519.0L356.6 522.3L359.1 519.0L361.6 521.5L364.1 521.5L365.7 517.3L367.4 518.2L369.0 513.2L371.2 514.0L372.9 509.9L374.9 505.7L376.5 505.7L378.7 498.2L380.3 505.7L381.5 511.5L384.0 513.2L386.5 514.5L388.1 509.0L390.6 512.4L392.8 516.5L394.8 514.0L396.4 515.7L398.9 514.9L400.6 509.9L401.8 502.4L403.9 501.6L405.6 504.1L406.4 511.5L408.1 510.7L410.6 512.4L413.1 513.5L415.5 514.5L417.2 510.7L418.9 504.9L420.5 505.7L422.2 504.1L424.7 504.9L426.3 497.4L428.3 492.4L429.7 497.4L431.7 496.6L433.3 490.8L435.0 487.4L436.0 484.1L437.1 498.2L438.0 504.9L440.5 504.1L443.0 502.4L444.6 505.7L447.1 506.5L448.8 514.9L449.9 520.7L452.1 518.2L454.6 516.5L457.1 518.2L459.6 521.5L462.1 517.3L464.6 515.7L467.0 520.7L469.5 520.7L472.0 515.7L474.5 519.0L477.8 519.0L479.5 525.6L482.0 526.5L484.5 529.0L487.0 528.1L489.5 527.3L491.5 530.6L492.8 512.4L493.6 504.9L495.0 508.2L496.7 509.9L498.3 515.7L500.8 513.2L503.3 519.0L505.0 514.9L507.5 514.0L510.3 509.9L511.6 513.2L514.1 514.0L515.8 518.2L518.3 524.8L521.2 529.0L524.1 522.3L526.6 528.1L529.9 532.3L533.2 530.6L534.9 524.8L537.4 522.3L538.5 519.0L540.7 519.8L541.5 523.2L544.0 520.7L545.7 524.0L548.2 525.6L549.8 519.0L551.5 509.9L553.1 506.5L554.5 512.4L556.1 517.3L558.1 521.5L560.1 518.2L561.4 523.2L563.9 522.3L565.6 512.4L567.3 510.7L568.9 514.0L570.6 508.2L572.7 506.2L574.7 509.0L576.4 510.7L577.7 520.7L579.7 523.2L581.4 527.3L583.0 526.5L583.9 517.3L586.0 519.0L588.0 515.7L590.5 514.5L593.0 516.5L595.5 517.3L598.0 518.2L600.5 516.5L603.0 515.7L604.3 519.8L606.0 525.6L608.0 529.8L609.6 519.8L611.3 511.5L612.9 502.4L614.9 501.6L616.6 499.6L618.3 504.9L619.6 505.7L620.9 514.0L622.9 518.2L624.6 514.9L626.2 522.3L627.9 514.0L629.2 500.7L631.2 498.2L633.2 499.9L634.9 508.2L637.0 509.0L639.5 513.2L641.5 514.9L643.7 514.0L645.3 507.4L647.8 510.7L650.3 511.5L652.0 508.2L654.5 505.7L657.0 511.5L659.5 513.2L660.0 514.0L662.0 511.5L663.7 507.4L665.0 511.5L666.6 519.0L669.1 519.8L670.8 520.7L672.5 516.5L674.1 519.0L676.6 517.3L678.3 518.2L679.1 510.7L680.8 509.9L682.4 501.6L684.1 505.7L685.7 504.1L688.2 505.7L689.9 509.9L692.4 509.0L694.9 511.5L696.5 504.9L699.0 499.9L701.2 496.6L703.2 495.7L705.2 494.9L706.8 488.3L708.5 486.6L709.5 496.6L710.7 500.7L712.3 497.4L714.0 489.9L715.1 496.6L717.3 497.4L719.0 500.7L720.6 505.7L722.3 512.4L724.8 514.0L727.3 513.2L729.8 514.9L731.4 511.5L733.1 518.2L735.6 523.2L737.2 519.0L738.9 517.3L740.6 513.2L742.2 510.7L744.7 511.5L746.4 507.4L748.0 506.5L749.7 512.4L751.4 511.5L753.4 505.7L755.5 504.1L758.0 503.2L759.7 507.4L761.3 513.2L763.0 519.0L765.5 519.8L767.1 512.4L769.6 510.7L772.1 509.9L774.6 512.4L776.3 509.9L778.3 509.5L780.4 514.0L782.6 511.5L784.6 515.7L786.2 520.7L788.7 519.0L791.2 514.9L792.9 512.4L794.6 515.7L796.2 512.4L797.5 504.1L798.7 512.4L800.4 518.2L802.0 522.3L804.2 528.1L806.2 524.8L808.7 527.3L810.3 528.1L811.2 533.1L812.8 527.3L814.5 524.8L816.1 517.3L817.8 517.3L819.1 516.5" stroke="#7852bd" stroke-width="0.85" fill="none" stroke-linejoin="round"/>
<path d="M6.6 516.5L10.0 513.5L14.1 512.4L18.3 511.9L21.6 512.4L24.9 512.9L28.2 518.2L31.6 523.2L35.7 527.3L39.9 530.1L44.0 531.8L48.2 530.6L52.3 529.0L57.3 528.5L61.5 524.8L66.4 523.2L71.4 520.7L75.6 519.3L79.7 519.5L83.9 521.5L88.0 525.6L91.4 529.8L94.4 531.8L97.2 530.1L99.7 526.5L103.8 519.8L108.0 514.9L111.3 513.5L116.3 513.5L122.9 513.5L129.6 513.5L134.6 514.5L139.5 516.5L144.5 519.0L149.5 519.0L154.5 518.5L159.5 516.5L165.0 514.0L168.3 508.2L171.6 501.6L174.1 498.2L177.5 498.2L180.8 500.7L184.9 504.9L189.9 510.7L194.1 513.2L198.2 512.9L202.4 514.0L206.5 516.2L210.7 519.0L214.8 521.5L219.0 522.3L223.1 520.7L227.3 516.5L231.4 514.0L236.4 513.5L240.6 516.5L244.7 519.8L248.9 522.8L253.0 524.5L256.4 524.0L260.5 521.5L264.7 517.3L268.8 511.5L273.0 507.4L278.0 507.4L281.3 509.9L284.6 514.0L288.8 519.0L292.1 520.3L296.2 519.5L300.4 516.8L305.4 513.5L310.3 513.5L315.3 514.4L320.3 514.0L325.3 512.9L329.5 509.9L330.0 509.9L334.2 506.5L338.3 506.2L342.5 509.0L346.6 514.0L351.6 517.3L356.6 519.5L362.4 520.3L368.2 519.8L373.2 516.5L378.2 511.5L382.3 509.0L386.5 508.5L390.6 509.0L394.8 512.4L398.9 513.5L403.1 511.2L408.1 509.9L413.1 509.5L418.0 509.9L422.2 510.7L426.3 508.2L430.5 503.2L434.7 498.2L438.0 495.7L442.1 496.6L446.3 499.9L450.4 507.4L454.6 512.4L458.7 515.7L462.9 518.2L467.9 518.5L472.9 518.5L477.8 518.5L482.0 520.7L487.0 524.0L491.1 526.5L493.6 524.8L495.0 523.2L499.2 519.0L503.3 515.7L507.5 513.5L511.6 514.0L515.8 514.5L519.9 517.3L524.1 521.5L528.2 525.6L532.4 528.1L536.5 527.3L541.5 525.6L546.5 523.2L551.5 520.7L556.5 518.5L561.4 517.8L566.4 516.8L570.6 516.5L574.7 513.5L578.1 512.9L581.4 514.9L585.5 517.3L589.7 519.5L593.0 519.8L598.0 518.2L603.0 516.5L606.3 518.2L609.6 519.5L612.9 517.3L617.9 513.2L622.9 509.9L625.4 509.0L628.7 510.2L632.9 510.2L637.9 509.0L642.0 508.5L645.3 509.5L649.5 512.4L654.5 511.5L659.5 510.2L660.0 510.7L664.2 511.5L668.3 514.0L672.5 515.7L676.6 517.3L679.9 517.8L684.1 514.0L688.2 510.7L692.4 508.2L696.5 507.4L700.7 505.7L704.9 502.4L709.0 497.4L713.2 494.9L717.3 494.6L721.5 496.6L724.8 501.6L728.9 507.4L733.1 512.4L737.2 515.7L741.4 516.5L745.5 515.7L749.7 514.0L753.9 510.7L758.0 508.5L761.3 508.5L765.5 510.7L769.6 511.5L774.6 514.5L778.8 513.5L782.9 511.9L787.1 513.5L791.2 515.2L795.4 516.5L799.5 516.5L803.7 518.2L807.8 520.7L812.0 524.5L815.3 526.8L817.8 526.1L819.1 525.1" stroke="#d9b932" stroke-width="1.0" fill="none" stroke-linejoin="round"/>
<rect x="973" y="511" width="29.5" height="10.3" fill="#7e57c2"/>
<rect x="973" y="521.3" width="29.5" height="10.7" fill="#fdd835"/>
<path d="M808.4 470.3Q812.2 469.4 813.3 465.6Q814 469.4 817.5 470.3Q814 471.2 813.3 475Q812.2 471.2 808.4 470.3Z" fill="#7c4dff"/>
<circle cx="838.1" cy="467.6" r="6.3" fill="#0f0f0f" stroke="#e0263c" stroke-width="1.2"/><clipPath id="c8381"><circle cx="838.1" cy="467.6" r="4.7"/></clipPath><g clip-path="url(#c8381)"><rect x="833.1" y="462.6" width="10" height="10" fill="#f4f4f4"/><rect x="833.1" y="462.9" width="10" height="1.9" fill="#ef4444"/><rect x="833.1" y="466.7" width="10" height="1.9" fill="#ef4444"/><rect x="833.1" y="470.5" width="10" height="1.9" fill="#ef4444"/><rect x="833.1" y="462.6" width="5.3" height="5.6" fill="#2f86f0"/><rect x="834.9" y="465.0" width="0.8" height="0.8" fill="#dbe9ff"/><rect x="836.7" y="465.0" width="0.8" height="0.8" fill="#dbe9ff"/><rect x="834.9" y="466.7" width="0.8" height="0.8" fill="#dbe9ff"/><rect x="836.7" y="466.7" width="0.8" height="0.8" fill="#dbe9ff"/></g>
<circle cx="829.3" cy="467.6" r="6.3" fill="#0f0f0f" stroke="#e0263c" stroke-width="1.2"/><clipPath id="c8293"><circle cx="829.3" cy="467.6" r="4.7"/></clipPath><g clip-path="url(#c8293)"><rect x="824.3" y="462.6" width="10" height="10" fill="#f4f4f4"/><rect x="824.3" y="462.9" width="10" height="1.9" fill="#ef4444"/><rect x="824.3" y="466.7" width="10" height="1.9" fill="#ef4444"/><rect x="824.3" y="470.5" width="10" height="1.9" fill="#ef4444"/><rect x="824.3" y="462.6" width="5.3" height="5.6" fill="#2f86f0"/><rect x="826.1" y="465.0" width="0.8" height="0.8" fill="#dbe9ff"/><rect x="827.9" y="465.0" width="0.8" height="0.8" fill="#dbe9ff"/><rect x="826.1" y="466.7" width="0.8" height="0.8" fill="#dbe9ff"/><rect x="827.9" y="466.7" width="0.8" height="0.8" fill="#dbe9ff"/></g>
<circle cx="819.9" cy="467.6" r="6.3" fill="#0f0f0f" stroke="#e0263c" stroke-width="1.2"/><clipPath id="c8199"><circle cx="819.9" cy="467.6" r="4.7"/></clipPath><g clip-path="url(#c8199)"><rect x="814.9" y="462.6" width="10" height="10" fill="#f4f4f4"/><rect x="814.9" y="462.9" width="10" height="1.9" fill="#ef4444"/><rect x="814.9" y="466.7" width="10" height="1.9" fill="#ef4444"/><rect x="814.9" y="470.5" width="10" height="1.9" fill="#ef4444"/><rect x="814.9" y="462.6" width="5.3" height="5.6" fill="#2f86f0"/><rect x="816.7" y="465.0" width="0.8" height="0.8" fill="#dbe9ff"/><rect x="818.5" y="465.0" width="0.8" height="0.8" fill="#dbe9ff"/><rect x="816.7" y="466.7" width="0.8" height="0.8" fill="#dbe9ff"/><rect x="818.5" y="466.7" width="0.8" height="0.8" fill="#dbe9ff"/></g>
<g fill="#d4d4d4"><path d="M7.6 579.5H15.2V589.8H11.3V583.4H7.6Z"/><circle cx="17.9" cy="581.4" r="1.9"/><path d="M21.6 579.5H26.2L22 589.8H17.4Z"/></g>
<g style="font-family:'Liberation Sans',Arial,sans-serif">
<text x="6.8" y="13.0" font-size="8.60" fill="#e8e8e8" text-anchor="start" font-weight="normal" textLength="245.7" lengthAdjust="spacingAndGlyphs" >AhmadPro created with TradingView.com, Apr 29, 2026 13:45 UTC+4</text>
<text x="11.4" y="30.2" font-size="8.40" fill="#bebebe" text-anchor="start" font-weight="normal" textLength="112.5" lengthAdjust="spacingAndGlyphs" >XRP / U.S. Dollar · 3h · Bitstamp</text>
<text x="128.8" y="30.2" font-size="8.40" fill="#dcdcdc" text-anchor="start" font-weight="normal" textLength="5.6" lengthAdjust="spacingAndGlyphs" >O</text>
<text x="134.3" y="30.2" font-size="8.40" fill="#0c9a82" text-anchor="start" font-weight="normal" textLength="28.8" lengthAdjust="spacingAndGlyphs" >1.39084</text>
<text x="168.0" y="30.2" font-size="8.40" fill="#dcdcdc" text-anchor="start" font-weight="normal" textLength="5.4" lengthAdjust="spacingAndGlyphs" >H</text>
<text x="173.4" y="30.2" font-size="8.40" fill="#0c9a82" text-anchor="start" font-weight="normal" textLength="28.2" lengthAdjust="spacingAndGlyphs" >1.39734</text>
<text x="206.6" y="30.2" font-size="8.40" fill="#dcdcdc" text-anchor="start" font-weight="normal" textLength="4.2" lengthAdjust="spacingAndGlyphs" >L</text>
<text x="210.6" y="30.2" font-size="8.40" fill="#0c9a82" text-anchor="start" font-weight="normal" textLength="28.9" lengthAdjust="spacingAndGlyphs" >1.39043</text>
<text x="244.6" y="30.2" font-size="8.40" fill="#dcdcdc" text-anchor="start" font-weight="normal" textLength="5.6" lengthAdjust="spacingAndGlyphs" >C</text>
<text x="250.0" y="30.2" font-size="8.40" fill="#0c9a82" text-anchor="start" font-weight="normal" textLength="28.7" lengthAdjust="spacingAndGlyphs" >1.39486</text>
<text x="283.5" y="30.2" font-size="8.40" fill="#0c9a82" text-anchor="start" font-weight="normal" textLength="69.0" lengthAdjust="spacingAndGlyphs" >+0.00372 (+0.27%)</text>
<text x="978.8" y="42.2" font-size="8.20" fill="#b8b8b8" text-anchor="start" font-weight="normal" textLength="29.7" lengthAdjust="spacingAndGlyphs" >1.70000</text>
<text x="978.8" y="88.6" font-size="8.20" fill="#b8b8b8" text-anchor="start" font-weight="normal" textLength="29.7" lengthAdjust="spacingAndGlyphs" >1.65000</text>
<text x="978.8" y="135.0" font-size="8.20" fill="#b8b8b8" text-anchor="start" font-weight="normal" textLength="29.7" lengthAdjust="spacingAndGlyphs" >1.60000</text>
<text x="978.8" y="181.3" font-size="8.20" fill="#b8b8b8" text-anchor="start" font-weight="normal" textLength="29.7" lengthAdjust="spacingAndGlyphs" >1.55000</text>
<text x="978.8" y="227.7" font-size="8.20" fill="#b8b8b8" text-anchor="start" font-weight="normal" textLength="29.7" lengthAdjust="spacingAndGlyphs" >1.50000</text>
<text x="978.8" y="274.1" font-size="8.20" fill="#b8b8b8" text-anchor="start" font-weight="normal" textLength="29.7" lengthAdjust="spacingAndGlyphs" >1.45000</text>
<text x="978.8" y="320.5" font-size="8.20" fill="#b8b8b8" text-anchor="start" font-weight="normal" textLength="29.7" lengthAdjust="spacingAndGlyphs" >1.40000</text>
<text x="978.8" y="366.9" font-size="8.20" fill="#b8b8b8" text-anchor="start" font-weight="normal" textLength="29.7" lengthAdjust="spacingAndGlyphs" >1.35000</text>
<text x="978.8" y="413.2" font-size="8.20" fill="#b8b8b8" text-anchor="start" font-weight="normal" textLength="29.7" lengthAdjust="spacingAndGlyphs" >1.30000</text>
<text x="978.8" y="459.6" font-size="8.20" fill="#b8b8b8" text-anchor="start" font-weight="normal" textLength="29.7" lengthAdjust="spacingAndGlyphs" >1.25000</text>
<rect x="973" y="317.2" width="41.5" height="19.2" fill="#089981"/>
<text x="978.7" y="325.1" font-size="8.20" fill="#f2fbf9" text-anchor="start" font-weight="normal" textLength="29.7" lengthAdjust="spacingAndGlyphs" >1.39486</text>
<text x="977.9" y="333.6" font-size="8.20" fill="#bfe6df" text-anchor="start" font-weight="normal" textLength="33.0" lengthAdjust="spacingAndGlyphs" >02:14:09</text>
<text x="978.5" y="496.0" font-size="8.20" fill="#b8b8b8" text-anchor="start" font-weight="normal" textLength="21.0" lengthAdjust="spacingAndGlyphs" >75.00</text>
<text x="978.5" y="536.7" font-size="8.20" fill="#a8a8a8" text-anchor="start" font-weight="normal" textLength="21.0" lengthAdjust="spacingAndGlyphs" >25.00</text>
<rect x="973" y="521.3" width="29.5" height="10.7" fill="#fdd835"/>
<text x="978.5" y="519.1" font-size="8.20" fill="#ffffff" text-anchor="start" font-weight="normal" textLength="20.5" lengthAdjust="spacingAndGlyphs" >46.51</text>
<text x="978.5" y="529.8" font-size="8.20" fill="#1a1a1a" text-anchor="start" font-weight="normal" textLength="20.5" lengthAdjust="spacingAndGlyphs" >35.51</text>
<text x="11.4" y="489.6" font-size="8.20" fill="#bebebe" text-anchor="start" font-weight="normal" textLength="50.5" lengthAdjust="spacingAndGlyphs" >RSI (14, close)</text>
<text x="66.8" y="489.6" font-size="8.20" fill="#8f6fd0" text-anchor="start" font-weight="normal" textLength="19.6" lengthAdjust="spacingAndGlyphs" >46.51</text>
<text x="90.6" y="489.6" font-size="8.20" fill="#e3c22f" text-anchor="start" font-weight="normal" textLength="19.2" lengthAdjust="spacingAndGlyphs" >35.51</text>
<text x="11.8" y="561.0" font-size="8.40" fill="#b8b8b8" text-anchor="middle" font-weight="normal" >28</text>
<text x="47.2" y="561.0" font-size="8.00" fill="#e4e4e4" text-anchor="middle" font-weight="normal" stroke="#e4e4e4" stroke-width="0.35">Feb</text>
<text x="82.4" y="561.0" font-size="8.40" fill="#b8b8b8" text-anchor="middle" font-weight="normal" >5</text>
<text x="117.7" y="561.0" font-size="8.40" fill="#b8b8b8" text-anchor="middle" font-weight="normal" >9</text>
<text x="153.0" y="561.0" font-size="8.40" fill="#b8b8b8" text-anchor="middle" font-weight="normal" >13</text>
<text x="188.3" y="561.0" font-size="8.40" fill="#b8b8b8" text-anchor="middle" font-weight="normal" >17</text>
<text x="223.6" y="561.0" font-size="8.40" fill="#b8b8b8" text-anchor="middle" font-weight="normal" >21</text>
<text x="258.9" y="561.0" font-size="8.40" fill="#b8b8b8" text-anchor="middle" font-weight="normal" >25</text>
<text x="294.3" y="561.0" font-size="8.00" fill="#e4e4e4" text-anchor="middle" font-weight="normal" stroke="#e4e4e4" stroke-width="0.35">Mar</text>
<text x="329.5" y="561.0" font-size="8.40" fill="#b8b8b8" text-anchor="middle" font-weight="normal" >5</text>
<text x="364.8" y="561.0" font-size="8.40" fill="#b8b8b8" text-anchor="middle" font-weight="normal" >9</text>
<text x="400.1" y="561.0" font-size="8.40" fill="#b8b8b8" text-anchor="middle" font-weight="normal" >13</text>
<text x="435.4" y="561.0" font-size="8.40" fill="#b8b8b8" text-anchor="middle" font-weight="normal" >17</text>
<text x="470.6" y="561.0" font-size="8.40" fill="#b8b8b8" text-anchor="middle" font-weight="normal" >21</text>
<text x="505.9" y="561.0" font-size="8.40" fill="#b8b8b8" text-anchor="middle" font-weight="normal" >25</text>
<text x="567.8" y="561.0" font-size="8.00" fill="#e4e4e4" text-anchor="middle" font-weight="normal" stroke="#e4e4e4" stroke-width="0.35">Apr</text>
<text x="603.0" y="561.0" font-size="8.40" fill="#b8b8b8" text-anchor="middle" font-weight="normal" >5</text>
<text x="638.3" y="561.0" font-size="8.40" fill="#b8b8b8" text-anchor="middle" font-weight="normal" >9</text>
<text x="673.6" y="561.0" font-size="8.40" fill="#b8b8b8" text-anchor="middle" font-weight="normal" >13</text>
<text x="708.9" y="561.0" font-size="8.40" fill="#b8b8b8" text-anchor="middle" font-weight="normal" >17</text>
<text x="744.2" y="561.0" font-size="8.40" fill="#b8b8b8" text-anchor="middle" font-weight="normal" >21</text>
<text x="779.5" y="561.0" font-size="8.40" fill="#b8b8b8" text-anchor="middle" font-weight="normal" >25</text>
<text x="832.5" y="561.0" font-size="8.00" fill="#e4e4e4" text-anchor="middle" font-weight="normal" stroke="#e4e4e4" stroke-width="0.35">May</text>
<text x="867.7" y="561.0" font-size="8.40" fill="#b8b8b8" text-anchor="middle" font-weight="normal" >5</text>
<text x="903.0" y="561.0" font-size="8.40" fill="#b8b8b8" text-anchor="middle" font-weight="normal" >9</text>
<text x="938.3" y="561.0" font-size="8.40" fill="#b8b8b8" text-anchor="middle" font-weight="normal" >13</text>
<text x="31.0" y="589.7" font-size="13.60" fill="#d4d4d4" text-anchor="start" font-weight="normal" textLength="76.0" lengthAdjust="spacingAndGlyphs" stroke="#d4d4d4" stroke-width="0.55">TradingView</text>
</g>
</svg>
</body></html>
